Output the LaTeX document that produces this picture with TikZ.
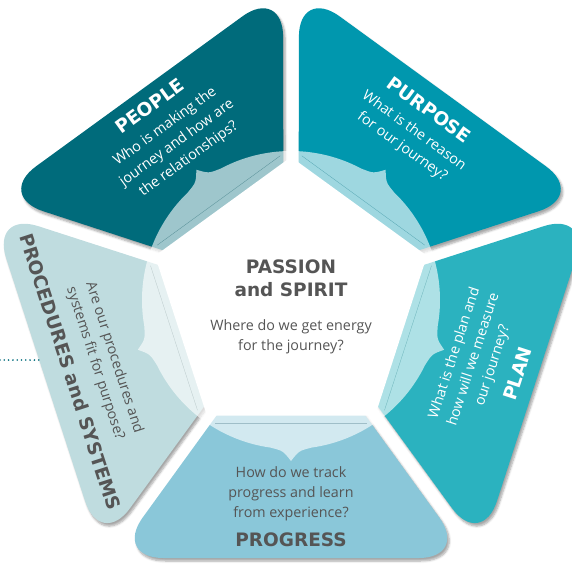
\documentclass[tikz,border=0pt]{standalone}
\usepackage{fontspec}
\setmainfont{Open Sans}
\newfontfamily\headfont{DejaVu Sans}
\usepackage{tikz}
\usetikzlibrary{shadows.blur}

\definecolor{people}{RGB}{0,107,123}
\definecolor{purpose}{RGB}{0,151,174}
\definecolor{plan}{RGB}{43,178,191}
\definecolor{progress}{RGB}{138,199,217}
\definecolor{procs}{RGB}{191,220,223}
\definecolor{inkgray}{RGB}{85,85,85}

\newcommand{\petalhead}{\headfont\bfseries\fontsize{18.5}{20}\selectfont}

\begin{document}
\begin{tikzpicture}[x=1pt, y=1pt,
   petal/.style={rounded corners=50pt, blur shadow={shadow xshift=2pt, shadow yshift=-3pt, shadow blur steps=6, shadow opacity=35}},
   petaltext/.style={align=center, font=\fontsize{14.3}{20}\selectfont}]
   \useasboundingbox (-291,-265) rectangle (281,300);

   % the five petals
   \foreach \col/\ang in {people/126, purpose/54, plan/-18, progress/-90, procs/198}
     \fill[\col, petal, rotate=\ang] (60,-34.2) -- (258,-177.6) -- (258,177.6) -- (60,34.2) -- cycle;

   % light ring with its five tips
   \fill[white, opacity=.62] (-98:149)
     foreach \a in {-90,-18,54,126,198} {
       .. controls ({\a-3}:151) .. (\a:161) .. controls ({\a+3}:151) .. ({\a+8}:149)
       arc[start angle=\a+8, delta angle=56, radius=149] } -- cycle;
   \fill[white] (90:143) -- (162:143) -- (234:143) -- (306:143) -- (18:143) -- cycle;
   \foreach \col/\ang in {people/126, purpose/54, plan/-18, progress/-90, procs/198}
     \draw[\col!70!black, opacity=.45, line width=.3pt, rotate=\ang] (123,-76) -- (123,76);

   \node(people)[petaltext, white, rotate=36] at (126:207) {{\petalhead PEOPLE}\\[3pt]Who is making the\\journey and how are\\the relationships?};
   \node(purpose)[petaltext, white, rotate=-36] at (54:212) {{\petalhead PURPOSE}\\[3pt]What is the reason\\for our journey?};
   \node(plan)[petaltext, white, rotate=72] at (-18:205) {What is the plan and\\how will we measure\\our journey?\\[9pt]{\petalhead PLAN}};
   \node(progress)[petaltext, inkgray] at (-90:207) {How do we track\\progress and learn\\from experience?\\[9pt]{\petalhead PROGRESS}};
   \node(procs)[petaltext, inkgray, rotate=-72] at (198:209) {Are our procedures and\\systems fit for purpose?\\[9pt]{\petalhead PROCEDURES and SYSTEMS}};
   \node(passion)[petaltext, inkgray] at (0,-7) {{\petalhead PASSION}\\[3pt]{\petalhead and SPIRIT}\\[14pt]Where do we get energy\\for the journey?};

   \coordinate(dotA) at (-291,-60);
   \coordinate(dotB) at (-251,-60);
   \draw[people, line width=1.8pt, line cap=round, dash pattern=on 0pt off 4.3pt] (dotA) -- (dotB);
\end{tikzpicture}
\end{document}
